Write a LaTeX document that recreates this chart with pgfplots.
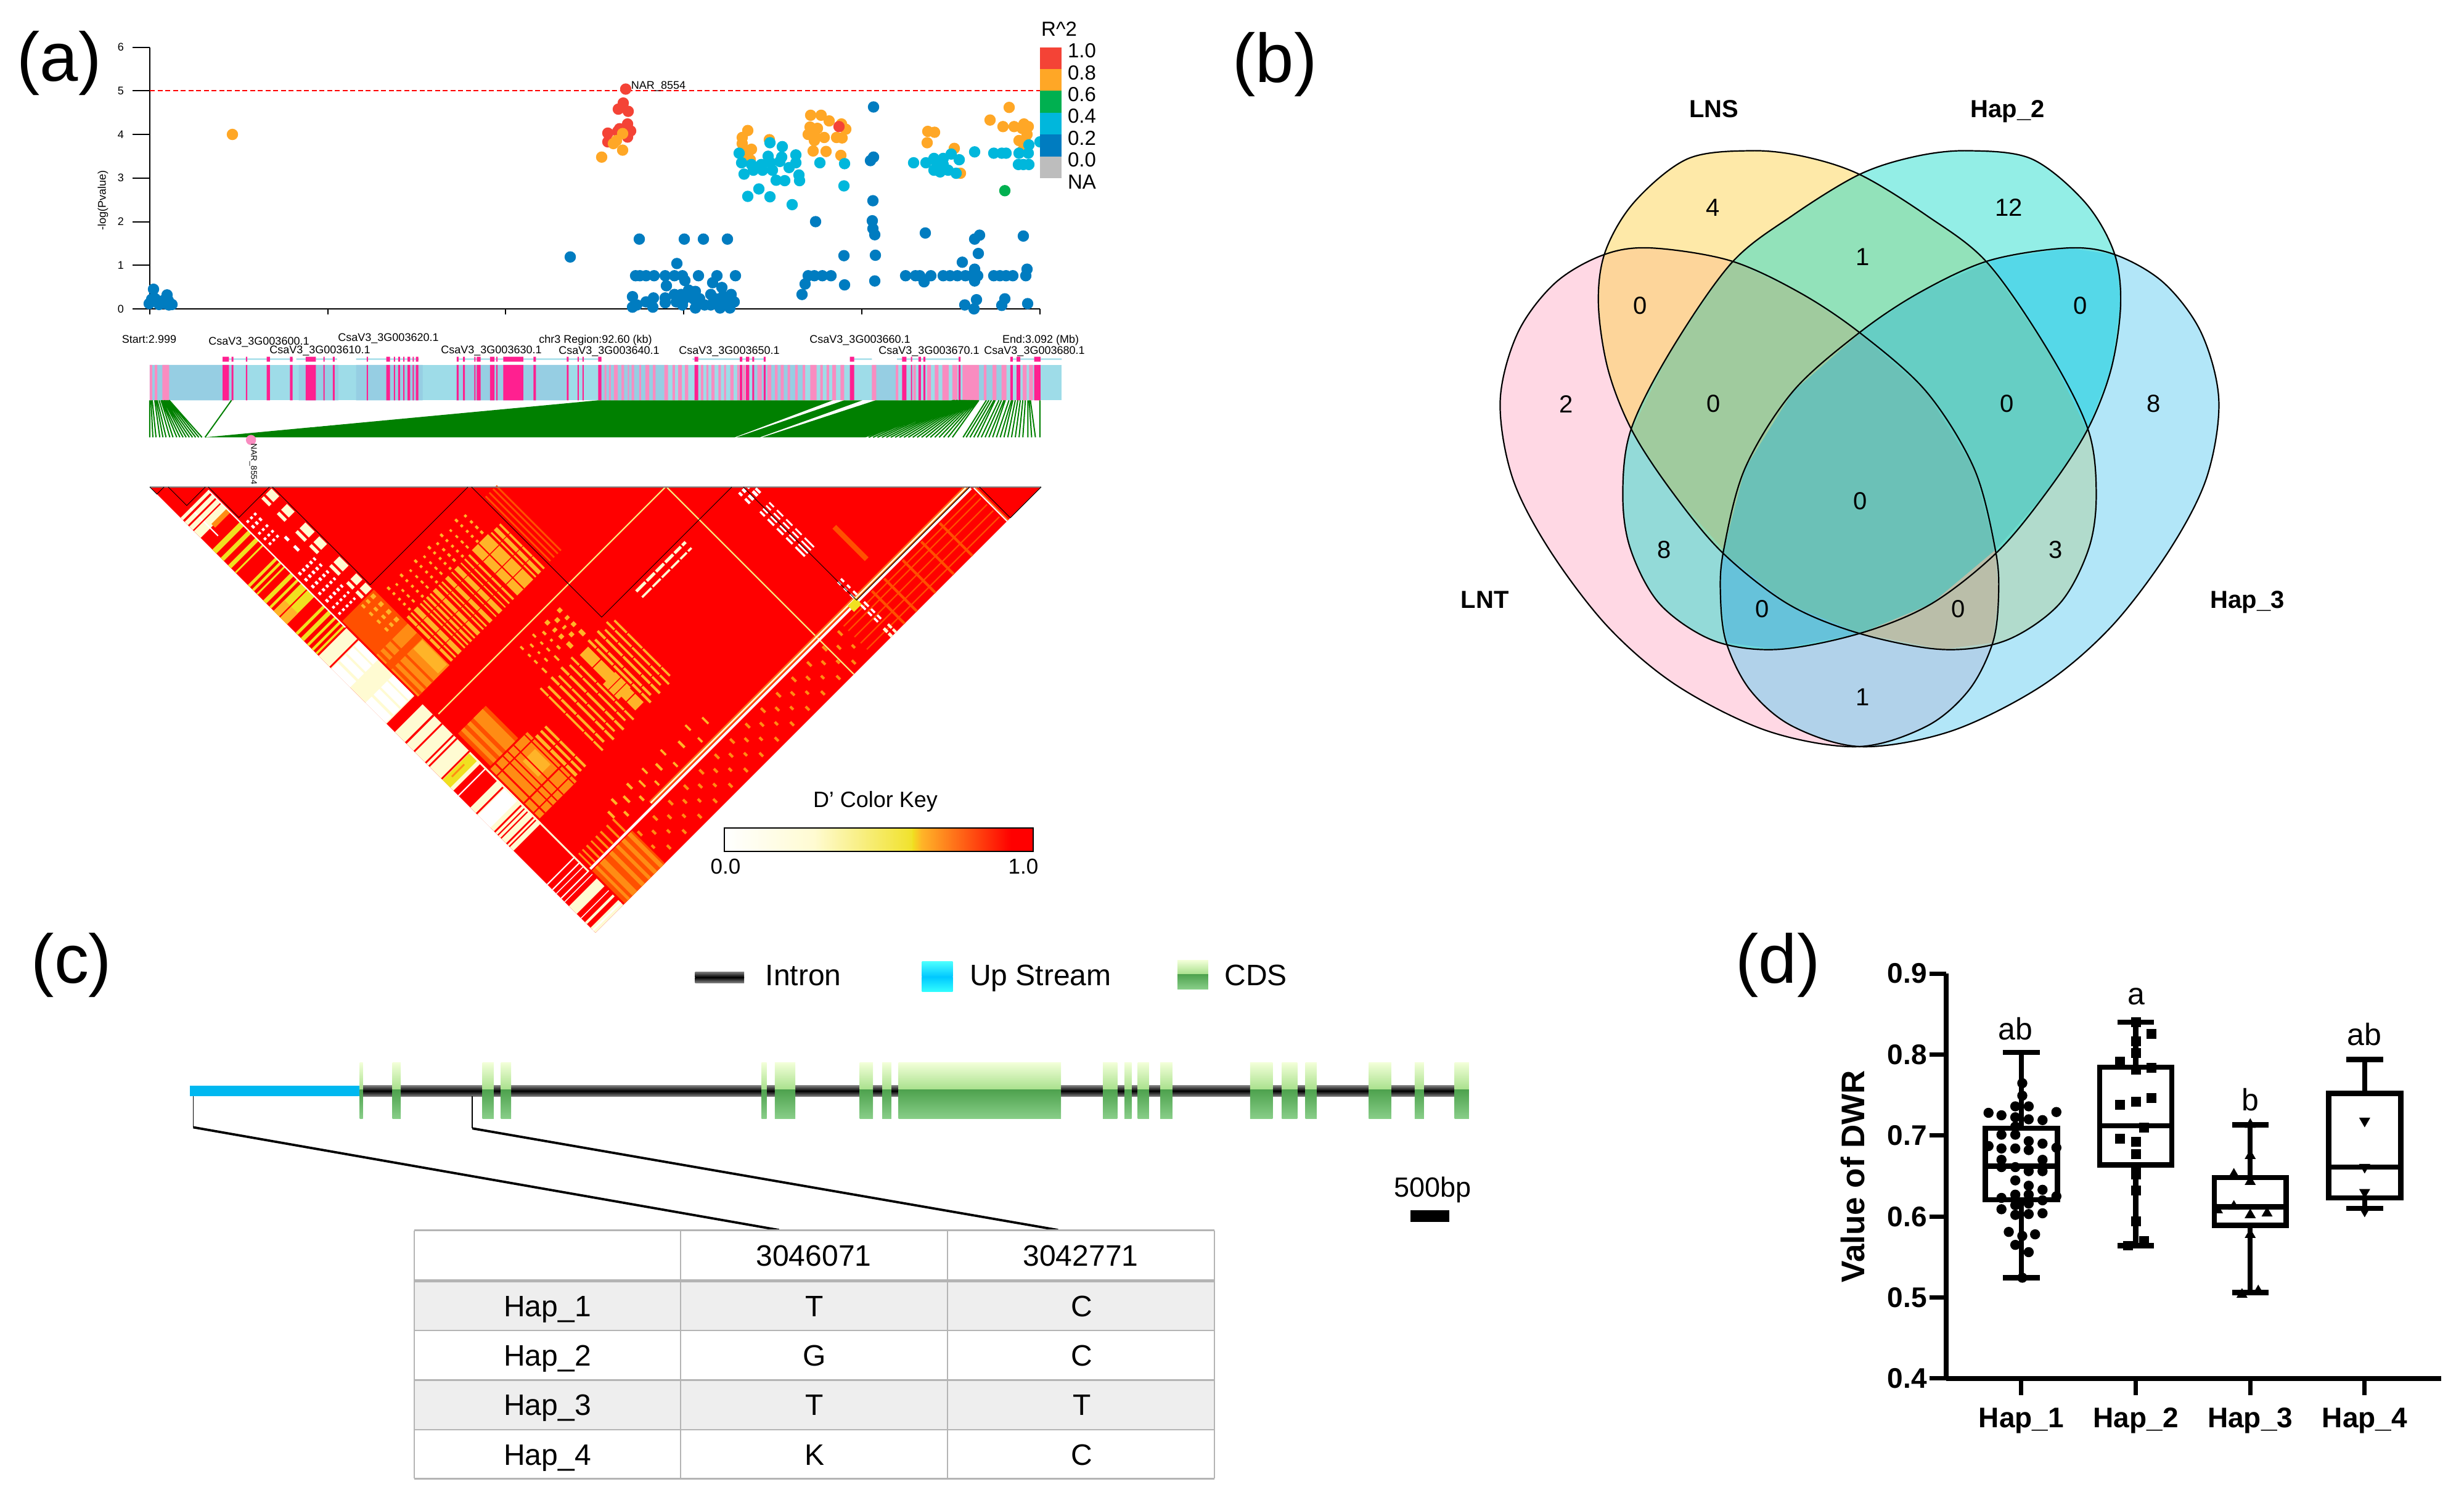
\documentclass[border=0pt]{standalone}
\usepackage{fontspec}
\setmainfont{Liberation Sans}
\usepackage{pgfplots}
\pgfplotsset{compat=1.18}
\usepgfplotslibrary{statistics}
\definecolor{cRed}{HTML}{F44336}\definecolor{cOrg}{HTML}{FFA726}\definecolor{cGrn}{HTML}{00B050}
\definecolor{cCya}{HTML}{00B7DC}\definecolor{cBlu}{HTML}{007CC0}\definecolor{cGry}{HTML}{BDBDBD}
\definecolor{pk}{HTML}{FF2090}\definecolor{lpk}{HTML}{F98CC0}\definecolor{lbA}{HTML}{96CEE3}\definecolor{lbB}{HTML}{9EDCE8}
\definecolor{Rd}{HTML}{FF0000}\definecolor{RO}{HTML}{FF5000}\definecolor{OR}{HTML}{FF8C14}\definecolor{OY}{HTML}{FFB428}
\definecolor{YL}{HTML}{F0E020}\definecolor{PL}{HTML}{FFFBD2}\definecolor{WH}{HTML}{FFFFFF}\definecolor{LN}{HTML}{FAEE80}
\definecolor{gr}{HTML}{008000}\definecolor{tb}{HTML}{B4B4B4}
\definecolor{vA}{RGB}{255,177,201}\definecolor{vB}{RGB}{253,211,81}\definecolor{vC}{RGB}{101,205,241}\definecolor{vD}{RGB}{39,221,205}
\def\fpx#1{\pgfmathsetmacro\ffs{#1*0.2845}\fontsize{\ffs pt}{\ffs pt}\selectfont}
\newcommand\T[5][]{\node[inner sep=0pt,anchor=center,text depth=0pt,font=\fpx{#2},#1] at ({#3*0.1mm},{(2433-#4)*0.1mm}) {#5};}
% rectangles in the (i,j) plane of the LD triangle
\newcommand\LD[5]{\addplot[fill=#5,draw=none,forget plot] coordinates {(#1,#3)(#2,#3)(#2,#4)(#1,#4)};}
\newcommand\Hatch[3]{\gdef\acc{}\foreach \a/\b in {#2}{\foreach \c/\d in {#3}{\xdef\acc{\acc(\a,\c)(\b,\c)(\b,\d)(\a,\d)(nan,nan)}}}\edef\tmp{\noexpand\addplot[fill=#1,draw=none,forget plot,unbounded coords=jump] coordinates {\acc};}\tmp}
\newcommand\LDI[4]{\Hatch{#3}{#4}{#1/#2}}
\newcommand\LDJ[4]{\Hatch{#3}{#1/#2}{#4}}
\newcommand\Strip[4]{\Hatch{#1}{#4}{#2/#3}}
\newcommand\CDS[1]{\foreach \a/\b in {#1}{\edef\tmp{\noexpand\addplot[draw=none,top color=cdsA,bottom color=cdsB,forget plot] coordinates {(\a,376)(\b,376)(\b,450)(\a,450)};\noexpand\addplot[draw=none,top color=cdsC,bottom color=cdsD,forget plot] coordinates {(\a,450)(\b,450)(\b,528)(\a,528)};}\tmp}}
\definecolor{cdsA}{HTML}{F2FFD8}\definecolor{cdsB}{HTML}{A8E08C}\definecolor{cdsC}{HTML}{4EA24E}\definecolor{cdsD}{HTML}{88CE88}
\pgfplotsset{panel/.style n args={6}{scale only axis,hide axis,clip=false,anchor=center,
  at={({(#1+#3/2)*0.1mm},{(2433-#2-#4/2)*0.1mm})},width={#3*0.1mm},height={#4*0.1mm},
  xmin=0,xmax=#5,ymin=0,ymax=#6,y dir=reverse}}
\def\vnA{(380,412)(290,428)(200,490)(130,600)(97,750)(120,920)(190,1080)(300,1250)(430,1380)(600,1480)(770,1515)(900,1470)(980,1390)(1025,1285)(1036,1180)(1030,1080)(990,900)(900,730)(775,600)(660,510)(530,440)}
\def\vnB{(570,197)(450,215)(350,310)(295,420)(282,535)(300,680)(345,815)(420,950)(515,1085)(640,1200)(775,1265)(930,1300)(1050,1280)(1150,1200)(1205,1080)(1220,960)(1205,815)(1130,640)(1015,445)(900,340)(775,250)(670,210)}
\def\vnC{(1168,412)(1258,428)(1348,490)(1418,600)(1451,750)(1428,920)(1358,1080)(1248,1250)(1118,1380)(948,1480)(778,1515)(648,1470)(568,1390)(523,1285)(512,1180)(518,1080)(558,900)(648,730)(773,600)(888,510)(1018,440)}
\def\vnD{(978,197)(1098,215)(1198,310)(1253,420)(1266,535)(1248,680)(1203,815)(1128,950)(1033,1085)(908,1200)(773,1265)(618,1300)(498,1280)(398,1200)(343,1080)(328,960)(343,815)(418,640)(533,445)(648,340)(773,250)(878,210)}
\newcommand\VF[2]{\edef\tmp{\noexpand\addplot[smooth cycle,tension=.55,fill=#1,fill opacity=.5,draw=none,forget plot] coordinates {#2};}\tmp}
\newcommand\VL[1]{\edef\tmp{\noexpand\addplot[smooth cycle,tension=.55,draw=black,line width=.22mm,forget plot] coordinates {#1};}\tmp}
\begin{document}
\begin{tikzpicture}
\useasboundingbox (0,0) rectangle (399.7mm,243.3mm);
% ---------- (a) association scatter
\begin{axis}[scale only axis,anchor=south west,at={(24.3mm,193.2mm)},width=144.4mm,height=42.44mm,
  xmin=243,xmax=1687,ymin=0,ymax=6,clip=false,axis lines=left,axis line style={-,line width=.22mm},
  xtick={243,532,820,1109,1398,1687},xticklabels={},ytick={0,1,2,3,4,5,6},
  xtick style={line width=.15mm,black,/pgfplots/major tick length=.9mm},
  ytick style={line width=.2mm,black,/pgfplots/major tick length=2.8mm},tick align=outside,
  yticklabel style={font=\fpx{18},/pgf/number format/assume math mode=true,inner sep=1pt,xshift=-2.3mm},
  ylabel={-log(Pvalue)},ylabel style={font=\fpx{18},at={(axis description cs:-0.0526,0.415)},anchor=center}]
\addplot[forget plot,red,line width=.22mm,dash pattern=on .8mm off .45mm] coordinates {(243,5)(1687,5)};
\addplot[only marks,mark=*,mark size=.85mm,cBlu,forget plot] coordinates {
(1417,4.63)(1417,3.48)(1412,3.4)(1416,2.48)(1323,2.0)(1415,2.02)(1416,1.84)(1419,1.7)(1501,1.74)(1589,1.69)(1581,1.6)(1660,1.67)(1587,1.27)(1369,1.22)(1420,1.23)(1561,1.07)(1037,1.6)(1110,1.6)(1141,1.6)(1180,1.6)(1098,1.04)(925,1.19)
(1031,.76)(1038,.76)(1048,.76)(1061,.76)(1079,.76)(1094,.76)(1107,.76)(1133,.76)(1163,.76)(1193,.76)(1311,.76)(1321,.76)(1334,.76)(1348,.76)(1469,.76)(1485,.76)(1492,.76)(1510,.76)(1530,.76)(1541,.76)(1553,.76)(1566,.76)(1576,.76)(1586,.76)(1612,.76)(1622,.76)(1632,.76)(1643,.76)(1664,.76)(1666,.91)(1581,.91)(1581,.64)(1499,.62)
(1081,.53)(1111,.65)(1156,.6)(1171,.49)(1370,.55)(1419,.64)(1306,.57)(1301,.33)
(1026,.28)(1026,.04)(1033,.09)(1048,.16)(1060,.25)(1059,.04)(1079,.25)(1079,.14)(1094,.33)(1105,.33)(1110,.23)(1117,.43)(1128,.4)(1125,.23)(1128,.02)(1143,.09)(1153,.33)(1161,.23)(1168,.02)(1184,.02)(1186,.33)(1191,.16)(1153,.09)(1173,.29)(1097,.16)(1107,.09)(1112,.33)(1135,.23)(1178,.16)(1168,.23)
(1565,.09)(1584,.21)(1580,0)(1630,.23)(1625,.08)(1667,.12)
(249,.45)(242,.12)(252,.23)(271,.32)(268,.12)(274,.09)(258,.1)(279,.1)(246,.22)(265,.19)(273,.19)};
\addplot[only marks,mark=*,mark size=.85mm,cRed,forget plot] coordinates {
(1015,5.04)(1011,4.72)(1019,4.53)(1003,4.58)(1018,4.24)(1023,4.08)(1018,3.94)(1005,4.13)(986,4.03)(986,3.83)(1002,4.07)};
\addplot[only marks,mark=*,mark size=.85mm,cOrg,forget plot] coordinates {
(377,4.0)(1010,4.02)(1010,3.64)(1000,3.86)(976,3.48)(995,3.79)
(1213,4.09)(1204,3.93)(1204,3.79)(1219,3.66)(1204,3.62)(1217,3.42)(1209,3.52)(1248,3.88)
(1315,4.44)(1332,4.44)(1345,4.31)(1314,4.17)(1326,4.14)(1311,4.0)(1321,4.0)(1337,3.93)(1321,3.86)(1319,3.62)(1340,3.61)(1357,3.93)(1366,3.92)(1372,4.12)(1365,4.24)(1364,3.52)
(1505,4.07)(1516,4.05)(1504,3.81)(1548,3.68)(1558,3.11)
(1637,4.62)(1606,4.33)(1627,4.18)(1645,4.18)(1661,4.24)(1668,4.18)(1658,4.14)(1666,4.0)(1653,3.86)(1663,3.86)(1658,3.62)};
\addplot[only marks,mark=*,mark size=.85mm,cCya,forget plot] coordinates {
(1199,3.57)(1249,3.81)(1269,3.72)(1291,3.53)(1246,3.5)(1268,3.48)(1203,3.35)(1219,3.31)(1235,3.31)(1250,3.35)(1265,3.38)(1280,3.24)(1291,3.35)(1207,3.09)(1222,3.18)(1237,3.18)(1253,3.18)(1259,2.95)(1273,2.94)(1296,3.07)(1297,2.94)(1231,2.75)(1213,2.58)(1249,2.57)(1285,2.39)(1330,3.35)(1370,3.33)(1369,2.82)
(1482,3.35)(1502,3.35)(1515,3.45)(1530,3.45)(1543,3.55)(1556,3.42)(1515,3.18)(1525,3.14)(1538,3.18)(1551,3.11)(1530,3.31)(1520,3.31)(1581,3.6)(1612,3.57)(1625,3.57)(1632,3.57)(1653,3.57)(1668,3.57)(1669,3.76)(1687,3.83)(1652,3.31)(1660,3.31)(1669,3.31)};
\addplot[only marks,mark=*,mark size=.85mm,cGrn,forget plot] coordinates {(1630,2.71)};
\addplot[only marks,mark=*,mark size=.85mm,cRed,forget plot] coordinates {(1361,4.18)};
\end{axis}
% ---------- gene track, in a local grid
\begin{axis}[panel={200}{500}{1600}{320}{1568}{960},unbounded coords=jump]
\Strip{lbB}{276}{448}{42/1492}
\Strip{lbA}{276}{448}{42/173,279/342,370/476,529/704,760/860,1000/1080,1196/1228,1360/1396}
\Strip{lpk}{276}{448}{42/46,50/54,62/73,765/768,772/775,780/786,792/796,802/804,808/812,820/823,830/836,842/846,860/866,873/877,882/888,893/898,918/922,927/930,935/940,946/950,955/958,965/970,976/979,985/989,1008/1015,1024/1030,1036/1040,1045/1050,1056/1060,1068/1072,1080/1084,1092/1102,1108/1112,1118/1122,1127/1133,1140/1146,1190/1197,1228/1232,1256/1260,1278/1284,1290/1296,1302/1312,1318/1326,1334/1360,1368/1372,1382/1388,1396/1404,1430/1436,1440/1446}
\Strip{pk}{276}{448}{158/168,172/175,195/197,228/233,265/269,290/306,318/320,333/336,387/389,418/424,430/432,437/440,445/447,452/456,460/462,465/469,530/533,540/543,558/560,562/568,583/590,593/595,604/636,652/656,705/708,722/724,730/732,755/760,908/914,980/984,990/995,1000/1003,1018/1021,1155/1162,1238/1245,1252/1254,1264/1268,1272/1275,1328/1331,1410/1414,1420/1426,1448/1458}
\Strip{lbB}{244}{251}{158/270,275/340,370/470,530/760,905/1020,1155/1190,1230/1330,1410/1492}
\Strip{pk}{236}{260}{158/168,172/175,195/197,228/233,265/269,290/306,318/320,333/336,387/389,418/424,430/432,437/440,445/447,452/456,460/462,465/469,530/533,540/543,558/560,562/568,583/590,593/595,604/636,652/656,705/708,722/724,730/732,755/760,908/914,980/984,990/995,1000/1003,1018/1021,1155/1162,1238/1245,1252/1254,1264/1268,1272/1275,1328/1331,1410/1414,1420/1426,1448/1458}
% linkage fan
\addplot[fill=gr,draw=none,forget plot] coordinates {(130,628)(755,448)(1128,448)(972,628)};
\addplot[fill=gr,draw=none,forget plot] coordinates {(975,628)(1146,448)(1175,448)(1012,628)};
\addplot[fill=gr,draw=none,forget plot] coordinates {(1016,628)(1196,448)(1360,448)(1310,500)(1180,628)};
\addplot[white,line width=.2mm,forget plot] coordinates {(300,575)(705,452)};
\addplot[gr,line width=.2mm,forget plot] coordinates {
(42,628)(42,448)(nan,nan)(47,628)(44,448)(nan,nan)(52,628)(46,448)(nan,nan)(58,628)(50,448)(nan,nan)(63,628)(52,448)(nan,nan)(68,628)(54,448)(nan,nan)(74,628)(57,448)(nan,nan)(79,628)(60,448)(nan,nan)(85,628)(61,448)(nan,nan)(90,628)(62,448)(nan,nan)(95,628)(64,448)(nan,nan)(100,628)(65,448)(nan,nan)(105,628)(66,448)(nan,nan)(110,628)(68,448)(nan,nan)(115,628)(70,448)(nan,nan)(120,628)(72,448)(nan,nan)(125,628)(73,448)(nan,nan)(130,628)(172,448)(nan,nan)
(1185,628)(1320,448)(nan,nan)(1192,628)(1322,448)(nan,nan)(1199,628)(1325,448)(nan,nan)(1206,628)(1327,448)(nan,nan)(1213,628)(1330,448)(nan,nan)(1220,628)(1332,448)(nan,nan)(1227,628)(1334,448)(nan,nan)(1234,628)(1336,448)(nan,nan)(1241,628)(1338,448)(nan,nan)(1248,628)(1340,448)(nan,nan)(1255,628)(1342,448)(nan,nan)(1262,628)(1344,448)(nan,nan)(1269,628)(1346,448)(nan,nan)(1276,628)(1348,448)(nan,nan)(1283,628)(1350,448)(nan,nan)(1290,628)(1352,448)(nan,nan)(1297,628)(1354,448)(nan,nan)(1304,628)(1356,448)(nan,nan)(1311,628)(1358,448)(nan,nan)(1318,628)(1360,448)(nan,nan)
(1335,628)(1372,448)(nan,nan)(1340,628)(1376,448)(nan,nan)(1346,628)(1380,448)(nan,nan)(1352,628)(1384,448)(nan,nan)(1358,628)(1386,448)(nan,nan)(1364,628)(1392,448)(nan,nan)(1370,628)(1396,448)(nan,nan)(1376,628)(1400,448)(nan,nan)(1382,628)(1402,448)(nan,nan)(1388,628)(1408,448)(nan,nan)(1394,628)(1412,448)(nan,nan)(1400,628)(1414,448)(nan,nan)(1406,628)(1418,448)(nan,nan)(1412,628)(1422,448)(nan,nan)(1418,628)(1426,448)(nan,nan)(1424,628)(1430,448)(nan,nan)(1430,628)(1434,448)(nan,nan)(1438,628)(1438,448)(nan,nan)(1444,628)(1440,448)(nan,nan)(1450,628)(1442,448)(nan,nan)(1457,628)(1457,448)};
\addplot[only marks,mark=*,mark size=.75mm,lpk,forget plot] coordinates {(203,641)};
\end{axis}
% ---------- LD triangle: i along one edge, j along the other
\begin{axis}[hide axis,anchor=origin,at={(24.3mm,164.3mm)},clip=false,disabledatascaling,
  x={(0.05mm,0.05mm)},y={(0.05mm,-0.05mm)},xmin=0,xmax=1446,ymin=0,ymax=1446]
\addplot[fill=Rd,draw=none,forget plot] coordinates {(0,0)(0,1446)(1446,1446)};
% first SNP band
\LDJ{0}{90}{PL}{100/165,548/768,795/985,1040/1180,1360/1385,1412/1418,1430/1446}
\LDJ{0}{90}{WH}{590/650,700/765,1065/1105,1288/1291,1305/1308,1318/1320,1333/1336,1345/1347,1398/1400,1000/1003,1436/1440}
\Hatch{PL}{20/26,45/50,70/74}{590/765}
\LD{30}{33}{100}{190}{WH}
\LDJ{0}{90}{Rd}{108/113,124/128,140/143,583/587,828/833,856/860,893/897,904/908,945/949,1058/1062,1117/1121,1128/1131,1138/1141,1156/1160,1165/1168}
\LD{40}{90}{160}{172}{OR}
\LDJ{0}{90}{YL}{203/216,230/240,254/264,276/280,318/325,332/338,346/350,368/378,388/394,402/445,473/480,490/500,510/516,525/531,538/543,950/975}
\LD{0}{35}{402}{445}{OY}
\LD{0}{90}{420}{423}{Rd}
\LD{20}{60}{958}{962}{OR}
\LD{86}{90}{950}{1335}{PL}
\LD{88}{91}{100}{545}{WH}
% second band: dashes near the block edge
\Hatch{PL}{176/195,162/170}{200/225,250/275,310/340,355/380,420/450,475/495,505/525}
\Hatch{WH}{100/106,112/118,124/130}{212/218,228/236,250/256,268/274,284/290}
\Hatch{WH}{100/106,112/118,124/130,136/142,148/153}{380/388,400/408,422/430,445/452,468/476,490/496,510/516}
\Hatch{WH}{135/142}{300/312,330/345}
\LD{95}{197}{530}{640}{RO}
\Hatch{OY}{150/156,165/172,180/190}{535/545,560/570,585/595,610/620}
\LD{95}{197}{640}{775}{OR}
\LD{165}{194}{690}{770}{OY}
\Hatch{RO}{100/108,118/124,140/146}{640/775}
\LD{95}{197}{670}{688}{RO}
\LD{100}{190}{900}{1005}{RO}
\Hatch{OR}{110/120,130/140,150/180}{900/1005}
\LD{95}{215}{1010}{1170}{OR}
\LD{160}{200}{1050}{1100}{OY}
\Hatch{Rd}{110/114,135/138,150/153,170/173,205/208}{1010/1170}
\Hatch{Rd}{95/215}{1030/1033,1118/1122,1150/1153}
\Hatch{OY}{220/228,236/242,250/256}{1030/1075,1078/1125,1128/1160}
% diamonds between blocks
\Hatch{OY}{205/212,218/222,228/240,248/252,258/262,268/274,280/284,290/300,308/312,318/322,330/340,350/353,360/372,380/383,392/396,405/410,478/482,488/498,505/510}{628/658,660/700,702/732,734/772}
\LD{420}{472}{625}{772}{OY}
\Hatch{Rd}{420/472}{660/662,700/702,735/737}
\Hatch{Rd}{440/443}{625/772}
\Hatch{OY}{220/226,262/268,308/314,352/358,392/398,440/446}{548/556,566/572,584/590,600/606,616/622}
\Hatch{OY}{240/245,285/290,330/335,372/378,415/420,462/468}{556/562,575/582,592/600,608/616}
\Hatch{RO}{528/532,540/544,552/556,562/566}{560/770}
\Hatch{OY}{340/345,380/385,420/430,460/470}{860/870,885/893,905/915,930/945}
\Hatch{OY}{360/365,400/406,440/450}{872/882,897/903,918/928}
\Hatch{OY}{305/310,340/346,372/378,405/410,460/466,490/496,520/525}{960/985,988/1040,1043/1100,1103/1130,1133/1162}
\Hatch{OY}{320/326,355/360,390/395,425/452,472/478,505/510,535/540}{970/1010,1013/1060,1063/1120,1123/1150}
\LD{415}{455}{1055}{1105}{OY}
\Hatch{Rd}{415/455}{1072/1074,1090/1092}
% lower part
\Hatch{OY}{214/220,264/270,315/320,369/375,442/448,520/525}{1270/1290}
\Hatch{OY}{240/246,290/296,340/345,400/405,480/485}{1255/1272,1296/1310}
\Hatch{OR}{100/104,112/116,125/130,140/144,155/160,170/175,190/195,210/215}{1290/1330}
\LD{95}{225}{1340}{1446}{RO}
\Hatch{OR}{105/112,120/135,150/160,172/180,190/200,210/220}{1340/1446}
\Hatch{OR}{230/236,280/286,330/336,380/386,430/436,480/486,530/536,580/586,630/636,680/686,730/736,780/786,830/836,880/886}{1350/1364,1395/1405}
\Hatch{OR}{255/261,305/311,355/361,405/411,455/461,505/511,555/561,605/611,655/661,705/711,755/761,805/811,855/861}{1372/1384,1420/1432}
\Hatch{RO}{900/1330}{1350/1353,1365/1368,1385/1388,1405/1408,1425/1428}
\Hatch{RO}{1000/1006,1040/1046,1100/1106,1160/1166,1220/1226}{1340/1446}
\LD{1040}{1052}{1175}{1280}{RO}
% long thin lines
\LD{100}{836}{835}{838}{LN}
\LD{837}{840}{840}{1446}{LN}
\LD{300}{1320}{1320}{1322}{OR}
\LD{300}{1323}{1323}{1327}{PL}
\LD{300}{1327}{1327}{1329}{OR}
\LD{95}{1330}{1331}{1337}{WH}
\LD{1334}{1337}{1338}{1446}{WH}
\LD{1338}{1340}{1340}{1446}{OR}
% white dashes
\LDJ{620}{780}{PL}{955/962,975/980}
\Hatch{Rd}{650/654,680/684,710/714,740/744,765/769}{950/985}
\Hatch{WH}{944/950,955/962,968/975,978/984}{965/975,985/1000}
\Hatch{WH}{948/953,958/962,968/972,978/982}{1030/1045,1055/1075,1085/1105,1115/1135,1145/1175}
\Hatch{WH}{960/965,970/975}{1270/1280,1290/1300,1310/1322,1345/1360,1368/1380,1388/1400}
\Hatch{PL}{958/965,972/978}{1420/1432,1436/1446}
\LD{940}{965}{1325}{1345}{YL}
% LD blocks
\addplot[gray,line width=.15mm,forget plot] coordinates {(0,0)(1446,1446)};
\addplot[black,line width=.1mm,forget plot] coordinates {(0,0)(0,23)(23,23)};
\addplot[black,line width=.1mm,forget plot] coordinates {(30,30)(30,90)(90,90)};
\addplot[black,line width=.1mm,forget plot] coordinates {(95,95)(95,194)(194,194)};
\addplot[black,line width=.1mm,forget plot] coordinates {(199,199)(199,516)(516,516)};
\addplot[black,line width=.1mm,forget plot] coordinates {(522,522)(522,944)(944,944)};
\addplot[black,line width=.1mm,forget plot] coordinates {(963,963)(963,1330)(1330,1330)};
\addplot[black,line width=.1mm,forget plot] coordinates {(1346,1346)(1346,1446)(1446,1446)};
\end{axis}
% ---------- legends of (a), in picture grid
\begin{axis}[panel={0}{0}{3997}{2433}{3997}{2433}]
\addplot[fill=cRed,draw=none,forget plot] coordinates {(1687,76.6)(1722,76.6)(1722,112)(1687,112)};
\addplot[fill=cOrg,draw=none,forget plot] coordinates {(1687,112)(1722,112)(1722,147)(1687,147)};
\addplot[fill=cGrn,draw=none,forget plot] coordinates {(1687,147)(1722,147)(1722,183)(1687,183)};
\addplot[fill=cCya,draw=none,forget plot] coordinates {(1687,183)(1722,183)(1722,218)(1687,218)};
\addplot[fill=cBlu,draw=none,forget plot] coordinates {(1687,218)(1722,218)(1722,254)(1687,254)};
\addplot[fill=cGry,draw=none,forget plot] coordinates {(1687,254)(1722,254)(1722,289)(1687,289)};
\end{axis}
\path[left color=white,right color=PL] (117.5mm,105.2mm) rectangle (132mm,109mm);
\path[left color=PL,right color=YL!95!white] (132mm,105.2mm) rectangle (148mm,109mm);
\path[left color=YL,right color=OY] (148mm,105.2mm) rectangle (149.5mm,109mm);
\path[left color=OY,right color=Rd] (149.5mm,105.2mm) rectangle (164mm,109mm);
\path[fill=Rd] (164mm,105.2mm) rectangle (167.6mm,109mm);
\draw[line width=.18mm] (117.5mm,105.2mm) rectangle (167.6mm,109mm);
\T[text depth=.212em]{112}{96}{95}{(a)}\T[text depth=.212em]{112}{2068}{97}{(b)}\T[text depth=.212em]{112}{116}{1558}{(c)}\T[text depth=.212em]{112}{2884}{1558}{(d)}
\T{18}{242}{550}{Start:2.999}\T{18}{420}{553}{CsaV3\_3G003600.1}\T{18}{519}{567}{CsaV3\_3G003610.1}
\T{18}{630}{547}{CsaV3\_3G003620.1}\T{18}{797}{567}{CsaV3\_3G003630.1}\T{18}{966}{550}{chr3 Region:92.60 (kb)}
\T{18}{988}{568}{CsaV3\_3G003640.1}\T{18}{1183}{568}{CsaV3\_3G003650.1}\T{18}{1395}{550}{CsaV3\_3G003660.1}
\T{18}{1507}{568}{CsaV3\_3G003670.1}\T{18}{1678}{568}{CsaV3\_3G003680.1}\T{18}{1688}{550}{End:3.092 (Mb)}
\T{18}{1068}{138}{NAR\_8554}
\T[rotate=-90]{13.5}{412}{753}{NAR\_8554}
\T{33}{1718}{47}{R\textasciicircum 2}
\T{33}{1755}{82}{1.0}\T{33}{1755}{118}{0.8}\T{33}{1755}{153}{0.6}\T{33}{1755}{188}{0.4}\T{33}{1755}{224}{0.2}\T{33}{1755}{259}{0.0}\T{33}{1755}{295}{NA}
\T{36}{1420}{1296}{D' Color Key}\T{35}{1177}{1405}{0.0}\T{35}{1660}{1405}{1.0}
% ---------- (b) Venn
\begin{axis}[panel={2350}{100}{1350}{1150}{1568}{1568}]
\VF{vA}{\vnA}\VF{vB}{\vnB}\VF{vC}{\vnC}\VF{vD}{\vnD}
% the overlaps that multiply in the original
\addplot[fill={rgb,255:red,107;green,193;blue,183},draw=none,forget plot] coordinates {(775,600)(900,730)(990,900)(1030,1080)(908,1200)(773,1265)(640,1200)(515,1085)(558,900)(648,730)};
\addplot[fill={rgb,255:red,160;green,203;blue,158},draw=none,forget plot] coordinates {(533,440)(660,510)(775,600)(648,730)(558,900)(518,1080)(420,950)(345,815)(418,640)};
\addplot[fill={rgb,255:red,102;green,206;blue,196},draw=none,forget plot] coordinates {(1015,445)(888,510)(773,600)(900,730)(990,900)(1030,1080)(1128,950)(1203,815)(1130,640)};
\addplot[fill={rgb,255:red,186;green,190;blue,169},draw=none,forget plot] coordinates {(1030,1080)(908,1200)(775,1265)(930,1300)(1025,1285)(1036,1180)};
\addplot[fill={rgb,255:red,102;green,194;blue,218},draw=none,forget plot] coordinates {(515,1085)(640,1200)(775,1265)(618,1300)(523,1285)(512,1180)};
\addplot[fill={rgb,255:red,85;green,216;blue,232},draw=none,forget plot] coordinates {(1018,440)(1168,412)(1258,428)(1266,535)(1248,680)(1203,815)(1130,640)};
\VL{\vnA}\VL{\vnB}\VL{\vnC}\VL{\vnD}
\node[font=\fpx{40}] at (axis cs:498,323) {4};\node[font=\fpx{40}] at (axis cs:1055,323) {12};
\node[font=\fpx{40}] at (axis cs:780,432) {1};\node[font=\fpx{40}] at (axis cs:361,540) {0};
\node[font=\fpx{40}] at (axis cs:1190,540) {0};\node[font=\fpx{40}] at (axis cs:221,757) {2};
\node[font=\fpx{40}] at (axis cs:499,757) {0};\node[font=\fpx{40}] at (axis cs:1052,757) {0};
\node[font=\fpx{40}] at (axis cs:1328,757) {8};\node[font=\fpx{40}] at (axis cs:775,972) {0};
\node[font=\fpx{40}] at (axis cs:406,1080) {8};\node[font=\fpx{40}] at (axis cs:1144,1080) {3};
\node[font=\fpx{40}] at (axis cs:591,1211) {0};\node[font=\fpx{40}] at (axis cs:960,1211) {0};
\node[font=\fpx{40}] at (axis cs:780,1405) {1};
\node[font=\fpx{40}\bfseries,text depth=0pt] at (axis cs:500,105) {LNS};\node[font=\fpx{40}\bfseries,text depth=0pt] at (axis cs:1053,105) {Hap\_2};
\node[font=\fpx{40}\bfseries,text depth=0pt] at (axis cs:68,1190) {LNT};\node[font=\fpx{40}\bfseries,text depth=0pt] at (axis cs:1505,1190) {Hap\_3};
\end{axis}
% ---------- (c) gene model and table
\begin{axis}[panel={0}{1500}{2600}{933}{1568}{1568}]
\addplot[draw=none,top color=gray,bottom color=black,forget plot] coordinates {(352,438)(1437,438)(1437,453)(352,453)};
\addplot[draw=none,top color=black,bottom color=gray,forget plot] coordinates {(352,453)(1437,453)(1437,468)(352,468)};
\addplot[fill={rgb,255:red,0;green,184;blue,240},draw=none,forget plot] coordinates {(186,438)(352,438)(352,468)(186,468)};
\CDS{352/355,384/392,472/483,490/500,745/750,758/778,841/854,863/872,879/1038,1079/1093,1100/1107,1113/1124,1135/1147,1223/1245,1254/1269,1277/1288,1339/1361,1384/1393,1423/1437}
\addplot[black,line width=.15mm,forget plot] coordinates {(189,468)(189,552)};
\addplot[black,line width=.15mm,forget plot] coordinates {(462,468)(462,555)};
\addplot[black,line width=.38mm,forget plot] coordinates {(189,552)(762,832)};
\addplot[black,line width=.38mm,forget plot] coordinates {(462,555)(1035,832)};
% legend swatches
\addplot[draw=none,top color=gray,bottom color=black,forget plot] coordinates {(680,128)(728,128)(728,143)(680,143)};
\addplot[draw=none,top color=black,bottom color=gray,forget plot] coordinates {(680,143)(728,143)(728,158)(680,158)};
\addplot[draw=none,top color=cyan!70!white,bottom color={rgb,255:red,0;green,200;blue,255},forget plot] coordinates {(902,100)(932,100)(932,142)(902,142)};
\addplot[draw=none,top color={rgb,255:red,0;green,200;blue,255},bottom color=cyan!80!white,forget plot] coordinates {(902,142)(932,142)(932,183)(902,183)};
\addplot[draw=none,top color=cdsA,bottom color=cdsB,forget plot] coordinates {(1152,97)(1182,97)(1182,135)(1152,135)};
\addplot[draw=none,top color=cdsC,bottom color=cdsD,forget plot] coordinates {(1152,135)(1182,135)(1182,175)(1152,175)};
\addplot[draw=none,fill=black,forget plot] coordinates {(1380,778)(1418,778)(1418,810)(1380,810)};
% table
\addplot[fill={rgb,255:red,238;green,238;blue,238},draw=none,forget plot] coordinates {(405,970)(1188,970)(1188,1106)(405,1106)};
\addplot[fill={rgb,255:red,238;green,238;blue,238},draw=none,forget plot] coordinates {(405,1241)(1188,1241)(1188,1376)(405,1376)};
\addplot[tb,line width=.25mm,forget plot] coordinates {(405,833)(1188,833)};
\addplot[tb,line width=.5mm,forget plot] coordinates {(405,970)(1188,970)};
\addplot[tb,line width=.25mm,forget plot] coordinates {(405,1106)(1188,1106)};
\addplot[tb,line width=.25mm,forget plot] coordinates {(405,1241)(1188,1241)};
\addplot[tb,line width=.25mm,forget plot] coordinates {(405,1376)(1188,1376)};
\addplot[tb,line width=.3mm,forget plot] coordinates {(405,1510)(1188,1510)};
\addplot[tb,line width=.2mm,forget plot] coordinates {(405,833)(405,1510)};
\addplot[tb,line width=.2mm,forget plot] coordinates {(666,833)(666,1510)};
\addplot[tb,line width=.2mm,forget plot] coordinates {(927,833)(927,1510)};
\addplot[tb,line width=.2mm,forget plot] coordinates {(1188,833)(1188,1510)};
\end{axis}
\T{48}{1303}{1582}{Intron}\T{48}{1688}{1582}{Up Stream}\T{48}{2037}{1582}{CDS}
\T{45}{2324}{1925}{500bp}
\T{48}{1320}{2037}{3046071}\T{48}{1753}{2037}{3042771}
\T{48}{888}{2119}{Hap\_1}\T{48}{888}{2199}{Hap\_2}\T{48}{888}{2279}{Hap\_3}\T{48}{888}{2360}{Hap\_4}
\T{48}{1321}{2119}{T}\T{48}{1321}{2199}{G}\T{48}{1321}{2279}{T}\T{48}{1321}{2360}{K}
\T{48}{1755}{2119}{C}\T{48}{1755}{2199}{C}\T{48}{1755}{2279}{T}\T{48}{1755}{2360}{C}
% ---------- (d) box plot
\begin{axis}[scale only axis,anchor=south west,at={(315.7mm,19.7mm)},width=80.3mm,height=65.7mm,
  xmin=0.343,xmax=4.669,ymin=0.4,ymax=0.9,clip=false,axis x line=bottom,axis y line=left,
  axis line style={-,line width=.8mm},tick style={line width=.7mm,black},major tick length=2.7mm,tick align=outside,
  xtick={1,2,3,4},xticklabels={Hap\_1,Hap\_2,Hap\_3,Hap\_4},ytick={0.4,0.5,0.6,0.7,0.8,0.9},
  tick label style={font=\fpx{46}\bfseries},
  yticklabel style={/pgf/number format/assume math mode=true,/pgf/number format/fixed,/pgf/number format/fixed zerofill,/pgf/number format/precision=1,inner sep=1pt},
  xticklabel style={yshift=-.8mm},
  ylabel={Value of DWR},ylabel style={font=\fpx{53}\bfseries,at={(axis description cs:-0.189,0.499)},anchor=center},
  boxplot/draw direction=y,boxplot/box extend=.63,boxplot/whisker extend=.32]
\addplot[forget plot,black,line width=.85mm,boxplot prepared={draw position=1,lower whisker=.5245,lower quartile=.6206,median=.662,upper quartile=.709,upper whisker=.8026}] coordinates {};
\addplot[forget plot,black,line width=.85mm,boxplot prepared={draw position=2,lower whisker=.564,lower quartile=.6636,median=.712,upper quartile=.7845,upper whisker=.84}] coordinates {};
\addplot[forget plot,black,line width=.85mm,boxplot prepared={draw position=3,lower whisker=.506,lower quartile=.589,median=.612,upper quartile=.648,upper whisker=.713}] coordinates {};
\addplot[forget plot,black,line width=.85mm,boxplot prepared={draw position=4,lower whisker=.61,lower quartile=.623,median=.661,upper quartile=.752,upper whisker=.794}] coordinates {};
\addplot[only marks,mark=*,mark size=.75mm,black,forget plot] coordinates {
(1.008,.7646)(1.008,.7492)(.947,.736)(1.064,.736)(.713,.728)(.826,.725)(.947,.7225)(1.064,.72)(1.185,.719)(1.306,.729)(.947,.711)(.826,.701)(.947,.701)(1.064,.693)(1.185,.69)(.713,.687)(.826,.684)(.947,.684)(1.064,.682)(1.306,.685)(.826,.67)(1.185,.67)(.826,.661)(.947,.661)(1.064,.656)(1.185,.656)(.947,.6446)(1.064,.638)(1.185,.633)(.947,.627)(1.064,.627)(.826,.623)(1.306,.625)(1.185,.62)(.947,.614)(1.064,.616)(.826,.609)(.947,.602)(1.064,.603)(1.185,.604)(.89,.581)(1.12,.578)(1.008,.576)(.947,.565)(1.064,.556)(1.008,.5245)};
\addplot[only marks,mark=square*,mark size=.72mm,black,forget plot] coordinates {
(2,.84)(2.136,.8257)(2,.816)(2,.8017)(1.86,.791)(2.136,.7836)(2,.7813)(1.86,.738)(2,.742)(2.136,.7465)(2.07,.71)(1.86,.696)(2,.692)(2,.677)(2,.661)(2,.652)(2,.632)(2,.594)(2.07,.57)(1.93,.564)};
\addplot[only marks,mark=triangle*,mark size=.9mm,black,forget plot] coordinates {
(3,.7134)(3,.675)(2.857,.652)(3,.643)(2.857,.6124)(2.713,.608)(3,.602)(3.147,.604)(3,.5775)(2.928,.5037)(3.07,.508)};
\addplot[only marks,mark=triangle*,mark size=.9mm,mark options={rotate=180},black,forget plot] coordinates {
(4,.718)(4,.661)(4,.63)(4,.607)};
\end{axis}
\T{50}{3269}{1668}{ab}\T{50}{3465}{1616}{a}\T{50}{3650}{1783}{b}\T{50}{3835}{1677}{ab}
\end{tikzpicture}
\end{document}
